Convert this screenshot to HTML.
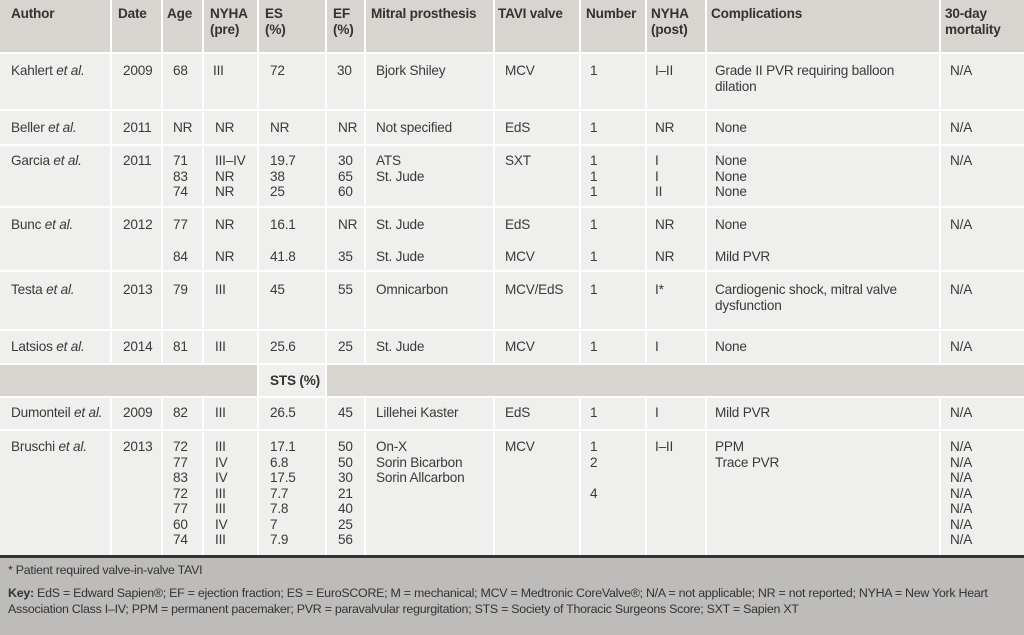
<!DOCTYPE html>
<html><head><meta charset="utf-8"><style>
*{margin:0;padding:0;box-sizing:border-box}
body{width:1024px;height:635px;position:relative;overflow:hidden;background:#efefee;font-family:"Liberation Sans",Arial,sans-serif;color:#3a3a3a;font-size:13.6px;letter-spacing:-0.2px}
.r{position:absolute;}
.v{position:absolute;top:0;width:2px;background:#fff;}
.h{position:absolute;left:0;width:1024px;height:2px;background:#fff}
.t{position:absolute;line-height:15.5px;white-space:nowrap}
.b{font-weight:bold;color:#333}
i{font-style:italic}
.f{position:absolute;font-size:12.4px;letter-spacing:-0.25px;color:#333;white-space:nowrap}
</style></head><body>
<div class="r" style="left:0;top:0;width:1024px;height:52px;background:#d8d5d0"></div>
<div class="r" style="left:0;top:364px;width:258px;height:33px;background:#d8d5d0"></div>
<div class="r" style="left:327px;top:364px;width:697px;height:33px;background:#d8d5d0"></div>
<div class="r" style="left:0;top:555px;width:1024px;height:3px;background:#333"></div>
<div class="r" style="left:0;top:558px;width:1024px;height:77px;background:#bdbcbb"></div>

<div class="v" style="left:110px;height:364px"></div><div class="v" style="left:110px;top:397px;height:158px"></div>
<div class="v" style="left:161px;height:364px"></div><div class="v" style="left:161px;top:397px;height:158px"></div>
<div class="v" style="left:202px;height:364px"></div><div class="v" style="left:202px;top:397px;height:158px"></div>
<div class="v" style="left:257px;height:555px"></div>
<div class="v" style="left:325px;height:555px"></div>
<div class="v" style="left:364px;height:364px"></div><div class="v" style="left:364px;top:397px;height:158px"></div>
<div class="v" style="left:493px;height:364px"></div><div class="v" style="left:493px;top:397px;height:158px"></div>
<div class="v" style="left:579px;height:364px"></div><div class="v" style="left:579px;top:397px;height:158px"></div>
<div class="v" style="left:645px;height:364px"></div><div class="v" style="left:645px;top:397px;height:158px"></div>
<div class="v" style="left:705px;height:364px"></div><div class="v" style="left:705px;top:397px;height:158px"></div>
<div class="v" style="left:939px;height:364px"></div><div class="v" style="left:939px;top:397px;height:158px"></div>

<div class="h" style="top:52px"></div>
<div class="h" style="top:109px"></div>
<div class="h" style="top:144px"></div>
<div class="h" style="top:206px"></div>
<div class="h" style="top:270px"></div>
<div class="h" style="top:329px"></div>
<div class="h" style="top:363px"></div>
<div class="h" style="top:396px"></div>
<div class="h" style="top:429px"></div>

<div class="t b" style="left:11px;top:6px">Author</div>
<div class="t b" style="left:118px;top:6px">Date</div>
<div class="t b" style="left:167px;top:6px">Age</div>
<div class="t b" style="left:210px;top:6px">NYHA<br>(pre)</div>
<div class="t b" style="left:265px;top:6px">ES<br>(%)</div>
<div class="t b" style="left:333px;top:6px">EF<br>(%)</div>
<div class="t b" style="left:371px;top:6px">Mitral prosthesis</div>
<div class="t b" style="left:498px;top:6px">TAVI valve</div>
<div class="t b" style="left:586px;top:6px">Number</div>
<div class="t b" style="left:651px;top:6px">NYHA<br>(post)</div>
<div class="t b" style="left:711px;top:6px">Complications</div>
<div class="t b" style="left:945px;top:6px">30-day<br>mortality</div>

<div class="t" style="left:11px;top:63px">Kahlert <i>et al.</i></div>
<div class="t" style="left:123px;top:63px">2009</div>
<div class="t" style="left:173px;top:63px">68</div>
<div class="t" style="left:213px;top:63px">III</div>
<div class="t" style="left:270px;top:63px">72</div>
<div class="t" style="left:337px;top:63px">30</div>
<div class="t" style="left:376px;top:63px">Bjork Shiley</div>
<div class="t" style="left:505px;top:63px">MCV</div>
<div class="t" style="left:590px;top:63px">1</div>
<div class="t" style="left:655px;top:63px">I–II</div>
<div class="t" style="left:715px;top:63px">Grade II PVR requiring balloon<br>dilation</div>
<div class="t" style="left:950px;top:63px">N/A</div>

<div class="t" style="left:11px;top:120px">Beller <i>et al.</i></div>
<div class="t" style="left:123px;top:120px">2011</div>
<div class="t" style="left:173px;top:120px">NR</div>
<div class="t" style="left:215px;top:120px">NR</div>
<div class="t" style="left:270px;top:120px">NR</div>
<div class="t" style="left:338px;top:120px">NR</div>
<div class="t" style="left:376px;top:120px">Not specified</div>
<div class="t" style="left:505px;top:120px">EdS</div>
<div class="t" style="left:590px;top:120px">1</div>
<div class="t" style="left:655px;top:120px">NR</div>
<div class="t" style="left:715px;top:120px">None</div>
<div class="t" style="left:950px;top:120px">N/A</div>

<div class="t" style="left:11px;top:153px">Garcia <i>et al.</i></div>
<div class="t" style="left:123px;top:153px">2011</div>
<div class="t" style="left:173px;top:153px">71<br>83<br>74</div>
<div class="t" style="left:215px;top:153px">III–IV<br>NR<br>NR</div>
<div class="t" style="left:270px;top:153px">19.7<br>38<br>25</div>
<div class="t" style="left:338px;top:153px">30<br>65<br>60</div>
<div class="t" style="left:376px;top:153px">ATS<br>St. Jude</div>
<div class="t" style="left:505px;top:153px">SXT</div>
<div class="t" style="left:590px;top:153px">1<br>1<br>1</div>
<div class="t" style="left:655px;top:153px">I<br>I<br>II</div>
<div class="t" style="left:715px;top:153px">None<br>None<br>None</div>
<div class="t" style="left:950px;top:153px">N/A</div>

<div class="t" style="left:11px;top:217px">Bunc <i>et al.</i></div>
<div class="t" style="left:123px;top:217px">2012</div>
<div class="t" style="left:173px;top:217px">77</div>
<div class="t" style="left:215px;top:217px">NR</div>
<div class="t" style="left:270px;top:217px">16.1</div>
<div class="t" style="left:338px;top:217px">NR</div>
<div class="t" style="left:376px;top:217px">St. Jude</div>
<div class="t" style="left:505px;top:217px">EdS</div>
<div class="t" style="left:590px;top:217px">1</div>
<div class="t" style="left:655px;top:217px">NR</div>
<div class="t" style="left:715px;top:217px">None</div>
<div class="t" style="left:950px;top:217px">N/A</div>
<div class="t" style="left:173px;top:249px">84</div>
<div class="t" style="left:215px;top:249px">NR</div>
<div class="t" style="left:270px;top:249px">41.8</div>
<div class="t" style="left:338px;top:249px">35</div>
<div class="t" style="left:376px;top:249px">St. Jude</div>
<div class="t" style="left:505px;top:249px">MCV</div>
<div class="t" style="left:590px;top:249px">1</div>
<div class="t" style="left:655px;top:249px">NR</div>
<div class="t" style="left:715px;top:249px">Mild PVR</div>

<div class="t" style="left:11px;top:282px">Testa <i>et al.</i></div>
<div class="t" style="left:123px;top:282px">2013</div>
<div class="t" style="left:173px;top:282px">79</div>
<div class="t" style="left:215px;top:282px">III</div>
<div class="t" style="left:270px;top:282px">45</div>
<div class="t" style="left:338px;top:282px">55</div>
<div class="t" style="left:376px;top:282px">Omnicarbon</div>
<div class="t" style="left:505px;top:282px">MCV/EdS</div>
<div class="t" style="left:590px;top:282px">1</div>
<div class="t" style="left:655px;top:282px">I*</div>
<div class="t" style="left:715px;top:282px">Cardiogenic shock, mitral valve<br>dysfunction</div>
<div class="t" style="left:950px;top:282px">N/A</div>

<div class="t" style="left:11px;top:339px">Latsios <i>et al.</i></div>
<div class="t" style="left:123px;top:339px">2014</div>
<div class="t" style="left:173px;top:339px">81</div>
<div class="t" style="left:215px;top:339px">III</div>
<div class="t" style="left:270px;top:339px">25.6</div>
<div class="t" style="left:338px;top:339px">25</div>
<div class="t" style="left:376px;top:339px">St. Jude</div>
<div class="t" style="left:505px;top:339px">MCV</div>
<div class="t" style="left:590px;top:339px">1</div>
<div class="t" style="left:655px;top:339px">I</div>
<div class="t" style="left:715px;top:339px">None</div>
<div class="t" style="left:950px;top:339px">N/A</div>

<div class="t b" style="left:270px;top:373px">STS (%)</div>

<div class="t" style="left:11px;top:405px">Dumonteil <i>et al.</i></div>
<div class="t" style="left:123px;top:405px">2009</div>
<div class="t" style="left:173px;top:405px">82</div>
<div class="t" style="left:215px;top:405px">III</div>
<div class="t" style="left:270px;top:405px">26.5</div>
<div class="t" style="left:338px;top:405px">45</div>
<div class="t" style="left:376px;top:405px">Lillehei Kaster</div>
<div class="t" style="left:505px;top:405px">EdS</div>
<div class="t" style="left:590px;top:405px">1</div>
<div class="t" style="left:655px;top:405px">I</div>
<div class="t" style="left:715px;top:405px">Mild PVR</div>
<div class="t" style="left:950px;top:405px">N/A</div>

<div class="t" style="left:11px;top:439px">Bruschi <i>et al.</i></div>
<div class="t" style="left:123px;top:439px">2013</div>
<div class="t" style="left:173px;top:439px">72<br>77<br>83<br>72<br>77<br>60<br>74</div>
<div class="t" style="left:215px;top:439px">III<br>IV<br>IV<br>III<br>III<br>IV<br>III</div>
<div class="t" style="left:270px;top:439px">17.1<br>6.8<br>17.5<br>7.7<br>7.8<br>7<br>7.9</div>
<div class="t" style="left:338px;top:439px">50<br>50<br>30<br>21<br>40<br>25<br>56</div>
<div class="t" style="left:376px;top:439px">On-X<br>Sorin Bicarbon<br>Sorin Allcarbon</div>
<div class="t" style="left:505px;top:439px">MCV</div>
<div class="t" style="left:590px;top:439px">1<br>2<br><br>4</div>
<div class="t" style="left:655px;top:439px">I–II</div>
<div class="t" style="left:715px;top:439px">PPM<br>Trace PVR</div>
<div class="t" style="left:950px;top:439px">N/A<br>N/A<br>N/A<br>N/A<br>N/A<br>N/A<br>N/A</div>

<div class="f" style="left:8px;top:563px">* Patient required valve-in-valve TAVI</div>
<div class="f" style="left:8px;top:586px;line-height:15.5px"><b>Key:</b> EdS = Edward Sapien®; EF = ejection fraction; ES = EuroSCORE; M = mechanical; MCV = Medtronic CoreValve®; N/A = not applicable; NR = not reported; NYHA = New York Heart<br>Association Class I–IV; PPM = permanent pacemaker; PVR = paravalvular regurgitation; STS = Society of Thoracic Surgeons Score; SXT = Sapien XT</div>
</body></html>
